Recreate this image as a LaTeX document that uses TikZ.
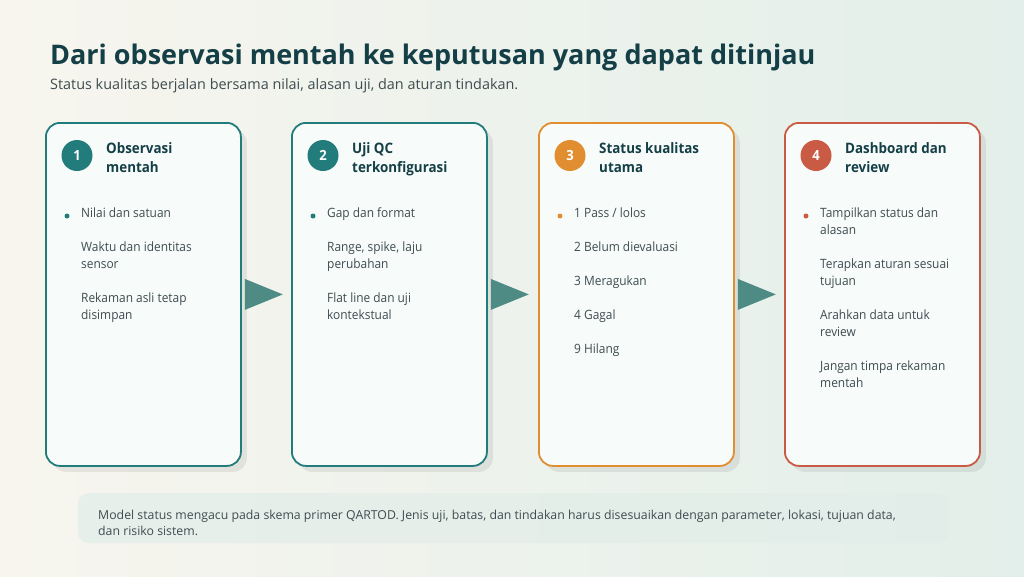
\documentclass[tikz,border=0pt]{standalone}
\usepackage{fontspec}
\setmainfont{Open Sans}[FakeStretch=0.93]
\newfontfamily\plainfont{Open Sans}
\usetikzlibrary{shapes.geometric,positioning,calc,shadows}

\definecolor{bgleft}{HTML}{F7F5EE}
\definecolor{bgright}{HTML}{E3EFEA}
\definecolor{titlec}{HTML}{143F47}
\definecolor{bodyc}{HTML}{3E4C50}
\definecolor{cardfill}{HTML}{F7FBF9}
\definecolor{tealc}{HTML}{237C7C}
\definecolor{orangec}{HTML}{E08E2F}
\definecolor{redc}{HTML}{C95B45}
\definecolor{arrowc}{HTML}{4E8B84}
\definecolor{notefill}{HTML}{E2EDE9}

\begin{document}
\begin{tikzpicture}[x=1pt, y=-1pt, font=\fontsize{12.8}{17}\selectfont]
 % --- styles ---
 \tikzset{
    card/.style={
        rectangle,
        draw,
        line width=1.8pt,
        fill=cardfill,
        rounded corners=14pt,
        minimum width=195pt,
        minimum height=343pt,
        anchor=north west,
        drop shadow={shadow xshift=6pt, shadow yshift=-6pt, fill=black, opacity=0.07}
    },
    badge/.style={
        circle,
        minimum size=31pt,
        inner sep=0pt,
        text=white,
        font=\fontsize{14}{14}\selectfont\bfseries
    },
    heading/.style={
        anchor=base west,
        align=left,
        inner sep=0pt,
        text=titlec,
        font=\fontsize{14.4}{19.5}\selectfont\bfseries
    },
    item/.style={
        anchor=base west,
        align=left,
        inner sep=0pt,
        text=bodyc
    },
    dot/.style={
        circle,
        inner sep=0pt,
        minimum size=5pt
    },
    flow/.style={
        fill=arrowc
    }
 }

 % --- background ---
 \shade[left color=bgleft, right color=bgright] (0,0) rectangle (1024,576);

 % --- title ---
 \node[anchor=base west, inner sep=0pt, text=titlec, font=\plainfont\fontsize{27}{27}\selectfont\bfseries] (title) at (50,64)
    {Dari observasi mentah ke keputusan yang dapat ditinjau};
 \node[anchor=base west, inner sep=0pt, text=bodyc, font=\plainfont\fontsize{14.4}{14}\selectfont] (subtitle) at (50,89)
    {Status kualitas berjalan bersama nilai, alasan uji, dan aturan tindakan.};

 % --- cards ---
 \node[card, draw=tealc] (card1) at (45,122) {};
 \node[card, draw=tealc] (card2) at (291,122) {};
 \node[card, draw=orangec] (card3) at (538,122) {};
 \node[card, draw=redc] (card4) at (784,122) {};

 % --- badges and headings (base = last line) ---
 \node[badge, fill=tealc] (badge1) at (77,155.5) {1};
 \node[heading] (head1) at (106,172.5) {Observasi\\mentah};
 \node[badge, fill=tealc] (badge2) at (323,155.5) {2};
 \node[heading] (head2) at (352,172.5) {Uji QC\\terkonfigurasi};
 \node[badge, fill=orangec] (badge3) at (570,155.5) {3};
 \node[heading] (head3) at (599,172.5) {Status kualitas\\utama};
 \node[badge, fill=redc] (badge4) at (816,155.5) {4};
 \node[heading] (head4) at (845,172.5) {Dashboard dan\\review};

 % --- card 1 items ---
 \node[dot, fill=tealc] (dot1) at (67,216) {};
 \node[item] (item11) at (81,217) {Nilai dan satuan};
 \node[item] (item12) at (81,268) {Waktu dan identitas\\sensor};
 \node[item] (item13) at (81,319) {Rekaman asli tetap\\disimpan};

 % --- card 2 items ---
 \node[dot, fill=tealc] (dot2) at (313,216) {};
 \node[item] (item21) at (327,217) {Gap dan format};
 \node[item] (item22) at (327,268) {Range, spike, laju\\perubahan};
 \node[item] (item23) at (327,319) {Flat line dan uji\\kontekstual};

 % --- card 3 items ---
 \node[dot, fill=orangec] (dot3) at (560,216) {};
 \node[item] (item31) at (574,217) {1 Pass / lolos};
 \node[item] (item32) at (574,251) {2 Belum dievaluasi};
 \node[item] (item33) at (574,285) {3 Meragukan};
 \node[item] (item34) at (574,319) {4 Gagal};
 \node[item] (item35) at (574,353) {9 Hilang};

 % --- card 4 items ---
 \node[dot, fill=redc] (dot4) at (806,216) {};
 \node[item] (item41) at (820,234) {Tampilkan status dan\\alasan};
 \node[item] (item42) at (820,285) {Terapkan aturan sesuai\\tujuan};
 \node[item] (item43) at (820,336) {Arahkan data untuk\\review};
 \node[item] (item44) at (820,387) {Jangan timpa rekaman\\mentah};

 % --- flow arrows between cards ---
 \fill[flow] ($(card1.east)+(3,-15.5)$) -- ++(38,15.5) -- ++(-38,15.5) -- cycle;
 \fill[flow] ($(card2.east)+(3,-15.5)$) -- ++(38,15.5) -- ++(-38,15.5) -- cycle;
 \fill[flow] ($(card3.east)+(3,-15.5)$) -- ++(38,15.5) -- ++(-38,15.5) -- cycle;

 % --- note ---
 \node[rectangle, rounded corners=10pt, fill=notefill, fill opacity=0.7, anchor=north west,
       minimum width=870pt, minimum height=50pt] (note) at (78,493) {};
 \node[item, font=\plainfont\fontsize{12.3}{16}\selectfont] (notetext) at (98,535.5)
    {Model status mengacu pada skema primer QARTOD. Jenis uji, batas, dan tindakan harus disesuaikan dengan parameter, lokasi, tujuan data,\\dan risiko sistem.};
\end{tikzpicture}
\end{document}
